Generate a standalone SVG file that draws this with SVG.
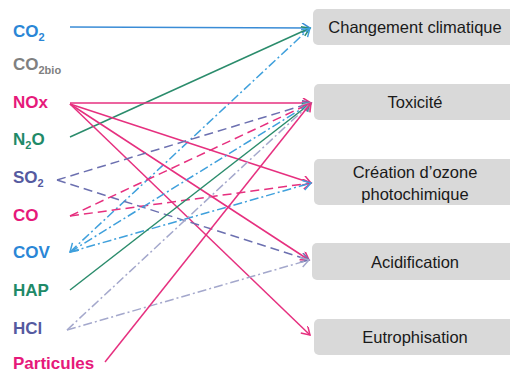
<svg xmlns="http://www.w3.org/2000/svg" width="510" height="374" viewBox="0 0 510 374">
<style>
.lbl{font-family:"Liberation Sans",Arial,sans-serif;font-weight:bold;font-size:17px}
.sub{font-size:11px}
.box{fill:#d9d9d9}
.bt{font-family:"Liberation Sans",Arial,sans-serif;font-size:16.5px;fill:#1a1a1a;text-anchor:middle}
.c{fill:none;stroke-width:1.5}
.blue{stroke:#3a8cd6}
.green{stroke:#2b8c6c}
.pink{stroke:#e6307f}
.slate{stroke:#6c70b0;stroke-dasharray:9 5}
.pinkd{stroke:#e6307f;stroke-dasharray:9 5}
.lb{stroke:#3fa0dc;stroke-dasharray:9 3 2 3}
.gray{stroke:#a4a8cc;stroke-dasharray:9 3 2 3}
</style>
<defs>
<marker id="mBlue" markerWidth="12" markerHeight="12" refX="9" refY="5" orient="auto" markerUnits="userSpaceOnUse"><path d="M1,0 L9,5 L1,10" fill="none" stroke="#3a8cd6" stroke-width="1.5"/></marker>
<marker id="mGreen" markerWidth="12" markerHeight="12" refX="9" refY="5" orient="auto" markerUnits="userSpaceOnUse"><path d="M1,0 L9,5 L1,10" fill="none" stroke="#2b8c6c" stroke-width="1.5"/></marker>
<marker id="mPink" markerWidth="12" markerHeight="12" refX="9" refY="5" orient="auto" markerUnits="userSpaceOnUse"><path d="M1,0 L9,5 L1,10" fill="none" stroke="#e6307f" stroke-width="1.5"/></marker>
<marker id="mSlate" markerWidth="12" markerHeight="12" refX="9" refY="5" orient="auto" markerUnits="userSpaceOnUse"><path d="M1,0 L9,5 L1,10" fill="none" stroke="#6c70b0" stroke-width="1.5"/></marker>
<marker id="mLb" markerWidth="12" markerHeight="12" refX="9" refY="5" orient="auto-start-reverse" markerUnits="userSpaceOnUse"><path d="M1,0 L9,5 L1,10" fill="none" stroke="#3fa0dc" stroke-width="1.5"/></marker>
<marker id="mGray" markerWidth="12" markerHeight="12" refX="9" refY="5" orient="auto" markerUnits="userSpaceOnUse"><path d="M1,0 L9,5 L1,10" fill="none" stroke="#a4a8cc" stroke-width="1.5"/></marker>
</defs>

<g id="connectors">
<line class="c blue" x1="70" y1="27" x2="310" y2="28" marker-end="url(#mBlue)"/>
<line class="c green" x1="70" y1="137" x2="310" y2="28" marker-end="url(#mGreen)"/>
<line class="c lb" x1="70" y1="252" x2="310" y2="28" marker-start="url(#mLb)" marker-end="url(#mLb)"/>
<line class="c pink" x1="70" y1="103" x2="311" y2="103" marker-end="url(#mPink)"/>
<line class="c pink" x1="70" y1="104" x2="311" y2="183" marker-end="url(#mPink)"/>
<line class="c pink" x1="70" y1="104" x2="309" y2="260" marker-end="url(#mPink)"/>
<line class="c pink" x1="70" y1="104" x2="310" y2="335" marker-end="url(#mPink)"/>
<line class="c slate" x1="57" y1="180" x2="311" y2="103" marker-end="url(#mSlate)"/>
<line class="c slate" x1="57" y1="180" x2="309" y2="260" marker-end="url(#mSlate)"/>
<line class="c pinkd" x1="70" y1="216" x2="311" y2="103" marker-end="url(#mPink)"/>
<line class="c pinkd" x1="70" y1="216" x2="311" y2="183" marker-end="url(#mPink)"/>
<line class="c lb" x1="70" y1="252" x2="311" y2="103" marker-end="url(#mLb)"/>
<line class="c lb" x1="70" y1="252" x2="311" y2="183" marker-end="url(#mLb)"/>
<line class="c green" x1="70" y1="290" x2="311" y2="103" marker-end="url(#mGreen)"/>
<line class="c gray" x1="67" y1="330" x2="311" y2="103" marker-end="url(#mGray)"/>
<line class="c gray" x1="67" y1="330" x2="309" y2="260" marker-end="url(#mGray)"/>
<line class="c pink" x1="105" y1="362" x2="311" y2="103" marker-end="url(#mPink)"/>
</g>

<g id="src-co2"><text class="lbl" x="13" y="37" fill="#2a86d6">CO<tspan class="sub" dy="4">2</tspan></text></g>
<g id="src-co2bio"><text class="lbl" x="13" y="70" fill="#808080">CO<tspan class="sub" dy="4">2bio</tspan></text></g>
<g id="src-nox"><text class="lbl" x="13" y="108" fill="#e6197a">NOx</text></g>
<g id="src-n2o"><text class="lbl" x="13" y="145" fill="#1f8a68">N<tspan class="sub" dy="4">2</tspan><tspan dy="-4">O</tspan></text></g>
<g id="src-so2"><text class="lbl" x="13" y="183" fill="#555aa0">SO<tspan class="sub" dy="4">2</tspan></text></g>
<g id="src-co"><text class="lbl" x="13" y="221" fill="#e6197a">CO</text></g>
<g id="src-cov"><text class="lbl" x="13" y="258" fill="#2a86d6">COV</text></g>
<g id="src-hap"><text class="lbl" x="13" y="296" fill="#1f8a68">HAP</text></g>
<g id="src-hcl"><text class="lbl" x="13" y="334" fill="#555aa0">HCl</text></g>
<g id="src-particules"><text class="lbl" x="13" y="369" fill="#e6197a">Particules</text></g>

<g id="box-climat"><rect class="box" x="313" y="9" width="210" height="36" rx="5"/><text class="bt" x="415" y="33">Changement climatique</text></g>
<g id="box-toxicite"><rect class="box" x="314" y="84" width="210" height="36" rx="5"/><text class="bt" x="415" y="108">Toxicité</text></g>
<g id="box-ozone"><rect class="box" x="314" y="159" width="210" height="46" rx="5"/><text class="bt" x="415" y="178">Création d’ozone</text><text class="bt" x="415" y="200">photochimique</text></g>
<g id="box-acid"><rect class="box" x="312" y="243" width="210" height="37" rx="5"/><text class="bt" x="415" y="268">Acidification</text></g>
<g id="box-eutro"><rect class="box" x="314" y="319" width="210" height="36" rx="5"/><text class="bt" x="415" y="343">Eutrophisation</text></g>
</svg>
